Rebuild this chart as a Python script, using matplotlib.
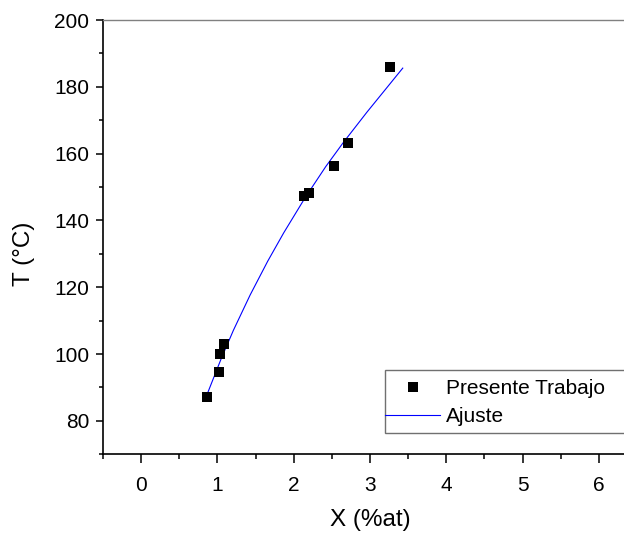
import matplotlib
matplotlib.use("Agg")
import matplotlib.pyplot as plt
from matplotlib.ticker import MultipleLocator
from matplotlib.patches import Rectangle

plt.rcParams['font.family'] = ['Liberation Sans', 'DejaVu Sans']

# Experimental data (Presente Trabajo)
x_data = [0.87, 1.02, 1.035, 1.085, 2.135, 2.20, 2.525, 2.71, 3.26]
t_data = [87.1, 94.6, 100.0, 102.9, 147.3, 148.3, 156.3, 163.3, 185.8]

# Fit curve (Ajuste)
x_fit = [0.87, 1.05, 1.21, 1.43, 1.66, 1.87, 2.15, 2.42, 2.65, 2.96, 3.43]
t_fit = [88.2, 98.6, 107.1, 117.7, 127.8, 136.3, 146.8, 156.1, 163.3, 172.4, 185.6]

x_ticks = [0, 1, 2, 3, 4, 5, 6]
y_ticks = [80, 100, 120, 140, 160, 180, 200]

W, H = 624, 533
L, R, B, T = 102.9, 637.0, 454.3, 20.0
fig = plt.figure(figsize=(W / 100, H / 100), dpi=100)
ax = fig.add_axes([L / W, 1 - B / H, (R - L) / W, (B - T) / H])

def ax_x(px):
    return (px - L) / (R - L)

def ax_y(py):
    return (B - py) / (B - T)

ax.plot(x_fit, t_fit, color='#0000ff', lw=0.8, label='Ajuste', zorder=2)
ax.plot(x_data, t_data, 's', color='black', markersize=6.5, markeredgewidth=0,
        label='Presente Trabajo', zorder=3)

ax.set_xlim(-0.5, 6.5)
ax.set_ylim(70, 200)
ax.set_xticks(x_ticks)
ax.set_yticks(y_ticks)
ax.xaxis.set_minor_locator(MultipleLocator(0.5))
ax.yaxis.set_minor_locator(MultipleLocator(10))

ax.tick_params(axis='both', which='major', direction='out', width=1.1, labelsize=15, color='black')
ax.tick_params(axis='x', which='major', length=6.5, pad=9)
ax.tick_params(axis='y', which='major', length=5, pad=5)
ax.tick_params(axis='x', which='minor', direction='out', length=3.5, width=1.1)
ax.tick_params(axis='y', which='minor', direction='out', length=3, width=1.1)

for s in ['left', 'bottom']:
    ax.spines[s].set_linewidth(1.2)
    ax.spines[s].set_color('black')
ax.spines['top'].set_color('#808080')
ax.spines['top'].set_linewidth(1.0)
ax.spines['right'].set_visible(False)

ax.set_xlabel('X (%at)', fontsize=17.5)
ax.set_ylabel('T (°C)', fontsize=17.5)
ax.xaxis.set_label_coords(0.5, ax_y(509))
ax.yaxis.set_label_coords(ax_x(35), ax_y(254))

# legend frame (extends past the right edge like the reference)
ax.add_patch(Rectangle((ax_x(385), ax_y(433)), ax_x(700) - ax_x(385), ax_y(370) - ax_y(433),
                       transform=ax.transAxes, facecolor='white', edgecolor='#707070',
                       lw=1.0, clip_on=False, zorder=4))

handles, labels = ax.get_legend_handles_labels()
leg = ax.legend(handles[::-1], labels[::-1], loc='upper left',
                bbox_to_anchor=(ax_x(383), ax_y(377)),
                fontsize=15, frameon=False, handlelength=2.64, handletextpad=0.3,
                borderpad=0.1, borderaxespad=0, labelspacing=0.45)
leg.set_zorder(5)

fig.savefig('out.png', dpi=100)
